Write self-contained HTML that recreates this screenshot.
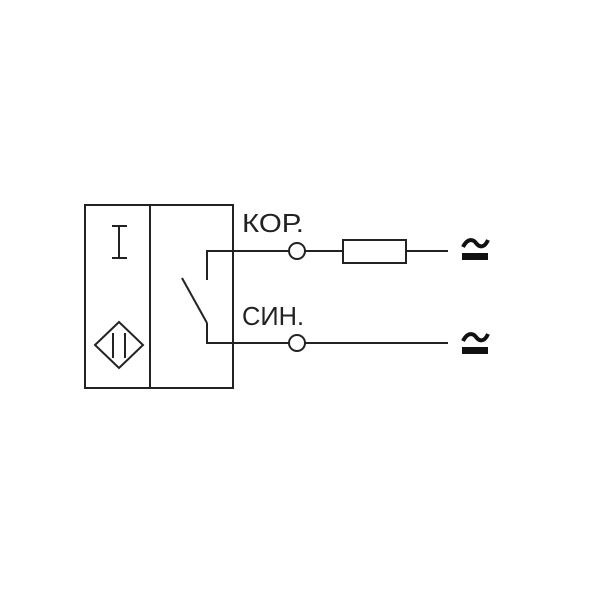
<!DOCTYPE html><html><head><style>body{margin:0;background:#fff}</style></head><body>
<svg width="600" height="600" viewBox="0 0 600 600" xmlns="http://www.w3.org/2000/svg">
<g fill="none" stroke="#222" stroke-width="2">
<rect x="85" y="205" width="148" height="183"/>
<line x1="150" y1="205" x2="150" y2="388"/>
<line x1="119" y1="226" x2="119" y2="258"/>
<line x1="112" y1="226" x2="127" y2="226"/>
<line x1="112" y1="258" x2="127" y2="258"/>
<polygon points="95,345 119,322 143,345 119,368"/>
<line x1="113" y1="333" x2="113" y2="358"/>
<line x1="125" y1="333" x2="125" y2="358"/>
<polyline points="207,280 207,251 289,251"/>
<circle cx="297" cy="251" r="8"/>
<line x1="305" y1="251" x2="343" y2="251"/>
<rect x="343" y="240" width="63" height="23"/>
<line x1="406" y1="251" x2="448" y2="251"/>
<line x1="182" y1="278" x2="207" y2="323"/>
<polyline points="207,323 207,343 289,343"/>
<circle cx="297" cy="343" r="8"/>
<line x1="305" y1="343" x2="448" y2="343"/>
</g>
<g font-family="Liberation Sans, sans-serif" font-size="26" fill="#222">
<text x="242" y="232" textLength="62" lengthAdjust="spacingAndGlyphs">КОР.</text>
<text x="242" y="325" textLength="62" lengthAdjust="spacingAndGlyphs">СИН.</text>
</g>
<g fill="none" stroke="#111" stroke-width="4">
<path d="M463,247 C468,237 474,240 476,243 C479,247 484,249 488,240"/>
<path d="M463,341 C468,331 474,334 476,337 C479,341 484,343 488,334"/>
</g>
<rect x="462" y="253" width="26" height="7" fill="#111"/>
<rect x="462" y="347" width="26" height="7" fill="#111"/>
</svg>
</body></html>
